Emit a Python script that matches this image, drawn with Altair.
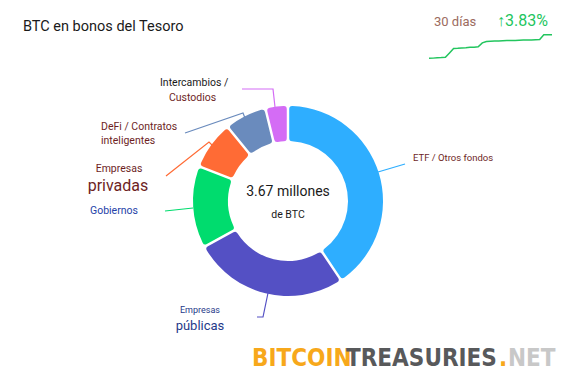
import altair as alt
import pandas as pd

# ---- data ----
categories = ["ETF / Otros fondos", "Empresas públicas", "Gobiernos",
              "Empresas privadas", "DeFi / Contratos inteligentes", "Intercambios / Custodios"]
holdings_mbtc = [1.49, 0.97, 0.51, 0.30, 0.26, 0.14]
total_label = "3.67 millones"
total_unit = "de BTC"

spark_days = list(range(31))
spark_values = [3.535, 3.536, 3.538, 3.539, 3.541, 3.566, 3.592, 3.593, 3.595, 3.596,
                3.598, 3.599, 3.601, 3.624, 3.632, 3.633, 3.634, 3.635, 3.636, 3.637,
                3.637, 3.638, 3.639, 3.640, 3.641, 3.641, 3.642, 3.643, 3.670, 3.670, 3.671]
change_label = "↑3.83%"
period_label = "30 días"
title_text = "BTC en bonos del Tesoro"

# ---- styles / layout ----
seg_colors = ["#2eaeff", "#5450c4", "#00dc6e", "#ff6b35", "#6a8bbd", "#d46cf5"]
W, H = 565, 364
CX, CY = 280, 193
OFF = 8  # page margin
FONT = "Roboto"
DARKRED = "#6e1f1f"

df_arc = pd.DataFrame({"cat": categories, "value": holdings_mbtc, "idx": range(len(categories))})

arc = alt.Chart(df_arc).mark_arc(innerRadius=60, outerRadius=95, cornerRadius=3,
                                 padAngle=0.022).encode(
    theta=alt.Theta("value:Q", stack=True),
    color=alt.Color("cat:N", scale=alt.Scale(domain=categories, range=seg_colors), legend=None),
    order=alt.Order("idx:Q"),
    x=alt.value(CX), y=alt.value(CY),
)

# leader lines (page coordinates)
leaders = [
    (0, [(378, 172), (405, 164)]),
    (1, [(268, 293), (263, 317), (257, 317)]),
    (2, [(193, 208), (165, 211)]),
    (3, [(213, 146), (209, 142), (166, 176)]),
    (4, [(245, 118), (243, 113), (185, 133)]),
    (5, [(275, 107), (273, 89), (242, 89)]),
]
rows = []
for i, pts in leaders:
    for k, (px, py) in enumerate(pts):
        rows.append({"g": i, "k": k, "lx": px - OFF, "ly": py - OFF, "c": seg_colors[i]})
df_lead = pd.DataFrame(rows)
lead = alt.Chart(df_lead).mark_line(strokeWidth=1.2).encode(
    x=alt.X("lx:Q", scale=None), y=alt.Y("ly:Q", scale=None),
    detail="g:N", order="k:Q", color=alt.Color("c:N", scale=None),
)

# labels: text, x, y (page), size, color, align
labels = [
    (title_text, 23, 27, 14.5, "#1a1a1a", "left"),
    (period_label, 434, 22, 13, "#9c6b5e", "left"),
    (change_label, 497, 21, 16, "#22c55e", "left"),
    (total_label, 288, 192, 14, "#1a1a1a", "center"),
    (total_unit, 288, 215, 10.5, "#1a1a1a", "center"),
    ("ETF / Otros fondos", 413, 158, 9.5, DARKRED, "left"),
    ("Empresas", 200, 310, 9, "#1f3a8a", "center"),
    ("públicas", 200, 326, 13, "#1f3a8a", "center"),
    ("Gobiernos", 90, 211, 10.5, "#2442a8", "left"),
    ("Empresas", 119, 169, 10.5, DARKRED, "center"),
    ("privadas", 118, 186, 16, DARKRED, "center"),
    ("DeFi / Contratos", 101, 127, 10.5, DARKRED, "left"),
    ("inteligentes", 101, 141, 10.5, DARKRED, "left"),
    ("Intercambios /", 160, 83, 10.5, "#1a1a1a", "left"),
    ("Custodios", 169, 98, 10.5, DARKRED, "left"),
]
df_lab = pd.DataFrame([{"t": t, "tx": x - OFF, "ty": y - OFF, "s": s, "c": c, "a": a}
                       for t, x, y, s, c, a in labels])

def text_layer(align):
    return alt.Chart(df_lab[df_lab.a == align]).mark_text(
        align=align, baseline="middle", font=FONT).encode(
        x=alt.X("tx:Q", scale=None), y=alt.Y("ty:Q", scale=None),
        text="t:N", size=alt.Size("s:Q", scale=None), color=alt.Color("c:N", scale=None))

# sparkline
df_sp = pd.DataFrame({"day": spark_days, "v": spark_values})
spark = alt.Chart(df_sp).mark_line(color="#22c55e", strokeWidth=1.5).encode(
    x=alt.X("day:Q", scale=alt.Scale(domain=[0, 30], range=[421, 544]), axis=None),
    y=alt.Y("v:Q", scale=alt.Scale(domain=[3.535, 3.671], range=[50.3, 26.7], zero=False), axis=None),
)

# logo
logo_parts = [("BITCOIN", 252, "#f7a81b"), ("TREASURIES", 346, "#58595b"),
              (".", 499, "#f7a81b"), ("NET", 508, "#c8c8c8")]
df_logo = pd.DataFrame([{"t": t, "tx": x - OFF, "ty": 366 - OFF, "c": c} for t, x, c in logo_parts])
logo = alt.Chart(df_logo).mark_text(align="left", baseline="alphabetic",
                                    font="DejaVu Sans Condensed, DejaVu Sans",
                                    fontSize=24, fontWeight="bold").encode(
    x=alt.X("tx:Q", scale=None), y=alt.Y("ty:Q", scale=None),
    text="t:N", color=alt.Color("c:N", scale=None))

chart = alt.layer(arc, lead, text_layer("left"), text_layer("center"), spark, logo).resolve_scale(
    x="independent", y="independent", color="independent", size="independent"
).properties(width=W, height=H, padding=0, background="white",
             autosize=alt.AutoSizeParams(type="none")
).configure_view(stroke=None)

chart.save("out.html", embed_options={"renderer": "svg", "actions": False})
